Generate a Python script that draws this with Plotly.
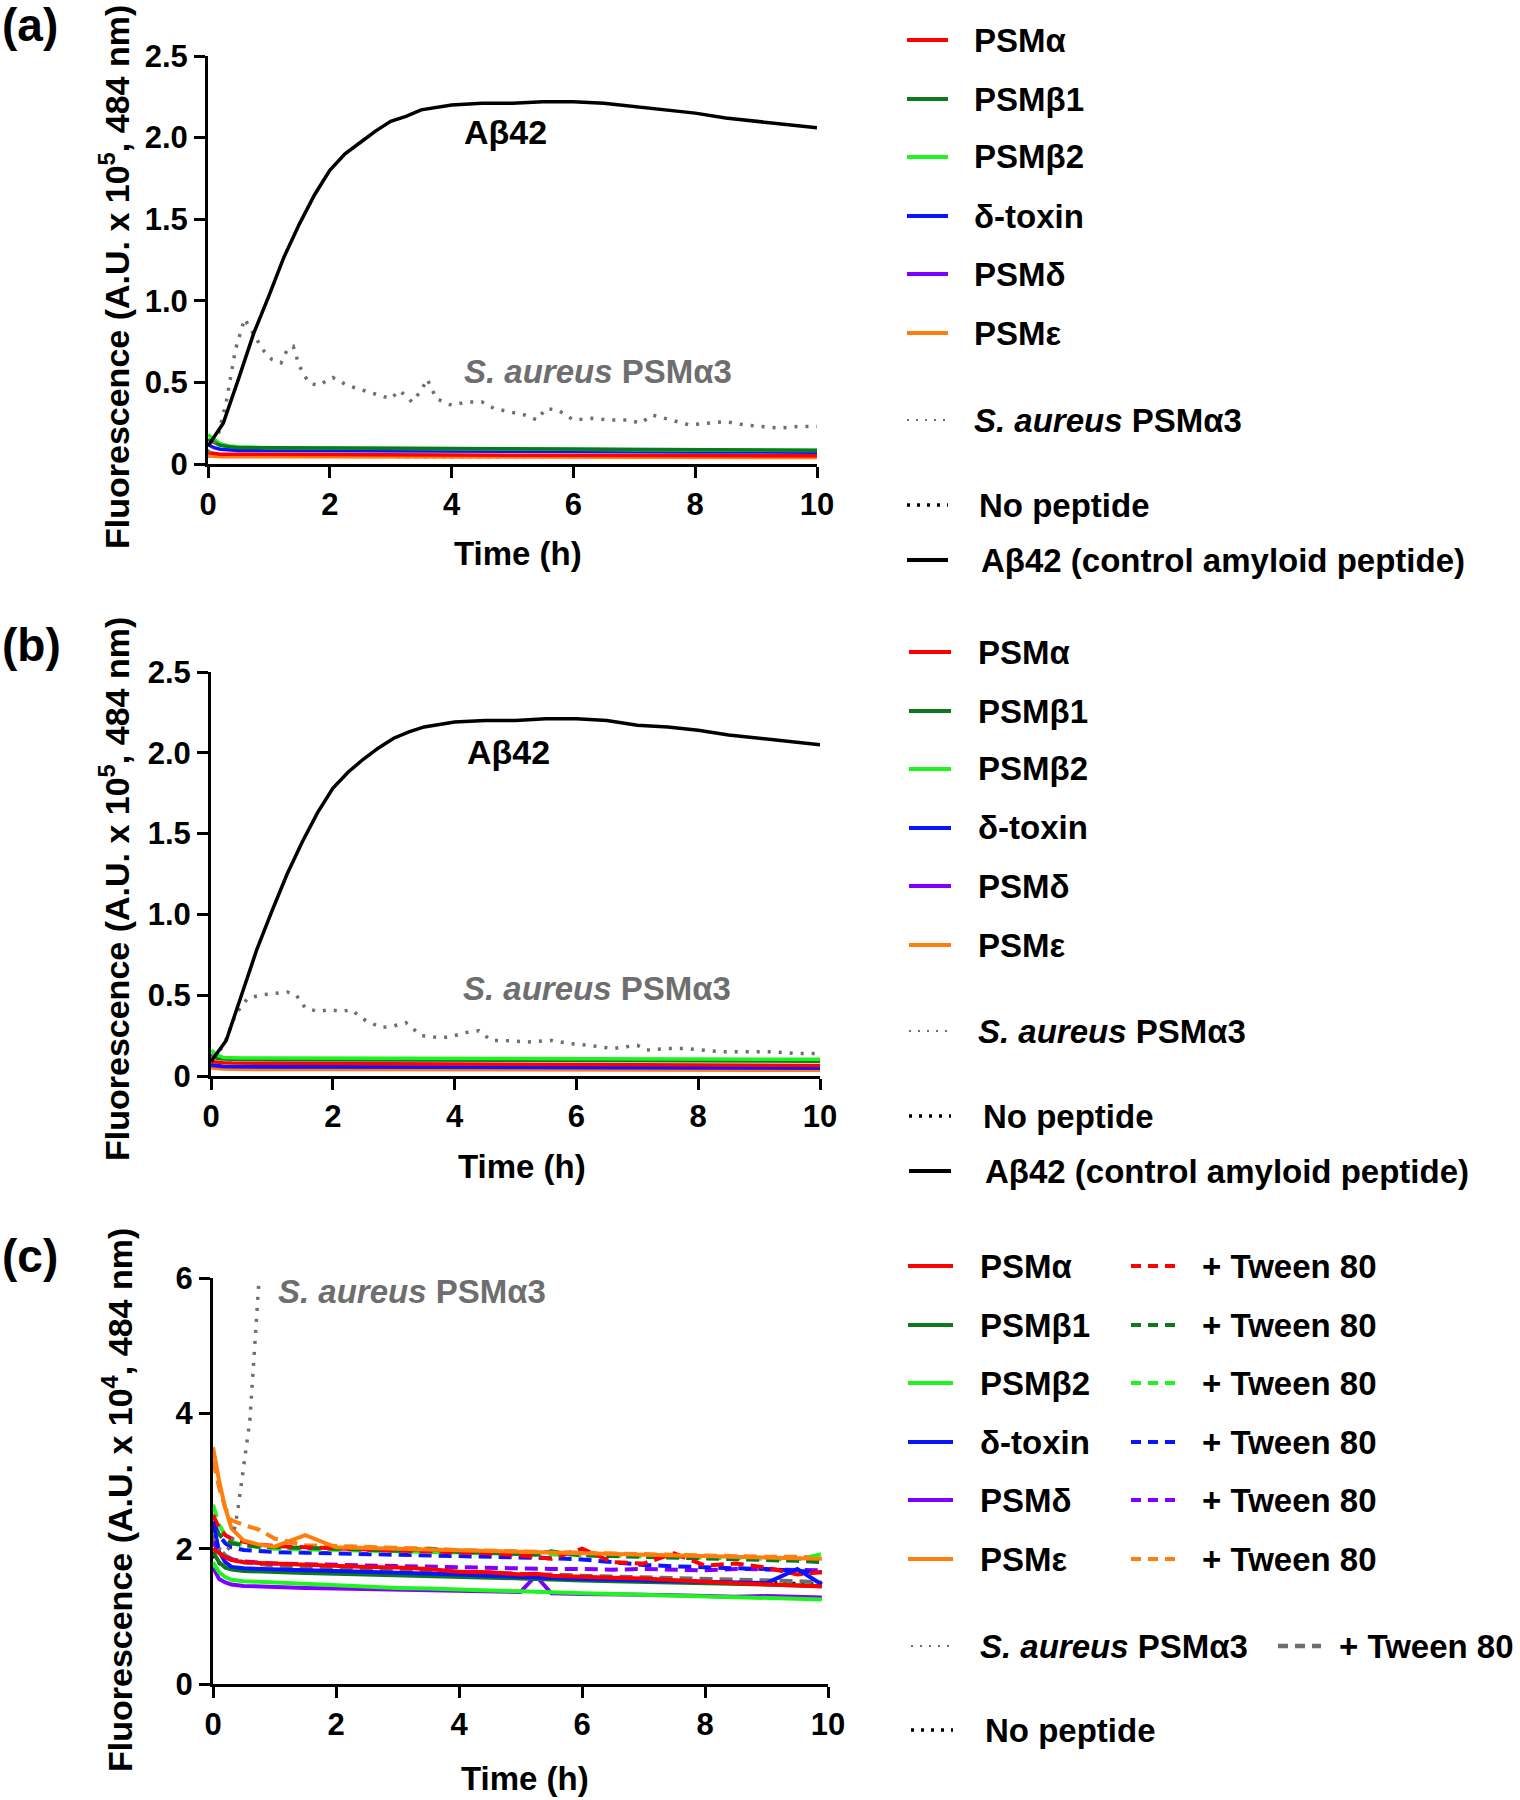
import plotly.graph_objects as go

W, H = 1520, 1800
FONT = "Liberation Sans, Arial, sans-serif"

# ---------------- data ----------------
# Panel (a)
t_ab42 = [0, 0.25, 0.5, 0.75, 1, 1.25, 1.5, 1.75, 2, 2.25, 2.5, 2.75, 3, 3.25, 3.5, 4,
          4.5, 5, 5.5, 6, 6.5, 7, 7.5, 8, 8.5, 9, 9.5, 10]
a_ab42 = [0.11, 0.25, 0.52, 0.8, 1.03, 1.27, 1.47, 1.65, 1.8, 1.9, 1.97, 2.04, 2.1, 2.13, 2.17,
          2.2, 2.21, 2.21, 2.22, 2.22, 2.21, 2.19, 2.17, 2.15, 2.12, 2.1, 2.08, 2.06]
b_ab42 = [0.09, 0.22, 0.5, 0.78, 1.02, 1.25, 1.45, 1.63, 1.78, 1.88, 1.96, 2.03, 2.09, 2.13, 2.16,
          2.19, 2.2, 2.2, 2.21, 2.21, 2.2, 2.17, 2.16, 2.14, 2.11, 2.09, 2.07, 2.05]

t_sa_a = [0, 0.15, 0.3, 0.45, 0.6, 0.75, 0.9, 1.05, 1.2, 1.3, 1.4, 1.5, 1.65, 1.8, 2.05, 2.3,
          2.55, 2.8, 3.0, 3.15, 3.35, 3.5, 3.6, 3.75, 4.0, 4.25, 4.5, 4.7, 4.95, 5.2, 5.4, 5.55,
          5.75, 6.0, 6.3, 6.6, 6.9, 7.1, 7.3, 7.6, 7.9, 8.2, 8.5, 8.8, 9.1, 9.4, 9.7, 10]
sa_a = [0.07, 0.15, 0.38, 0.7, 0.89, 0.8, 0.7, 0.64, 0.62, 0.7, 0.72, 0.6, 0.5, 0.48, 0.53, 0.48,
        0.45, 0.42, 0.4, 0.45, 0.38, 0.45, 0.52, 0.4, 0.36, 0.38, 0.38, 0.34, 0.32, 0.3, 0.27, 0.34,
        0.33, 0.27, 0.28, 0.27, 0.27, 0.25, 0.3, 0.27, 0.24, 0.25, 0.26, 0.24, 0.23, 0.22, 0.23, 0.23]

t_sa_b = [0, 0.2, 0.4, 0.6, 0.8, 1.0, 1.25, 1.4, 1.55, 1.75, 1.95, 2.15, 2.3, 2.55, 2.8, 3.0,
          3.2, 3.45, 3.7, 3.9, 4.2, 4.4, 4.6, 4.8, 5.2, 5.6, 5.9, 6.2, 6.6, 7.0, 7.15, 7.5, 7.8,
          8.1, 8.4, 8.8, 9.2, 9.6, 10]
sa_b = [0.12, 0.18, 0.38, 0.48, 0.5, 0.51, 0.52, 0.5, 0.42, 0.4, 0.41, 0.4, 0.41, 0.34, 0.3, 0.31,
        0.33, 0.25, 0.24, 0.24, 0.27, 0.28, 0.22, 0.22, 0.21, 0.22, 0.2, 0.19, 0.17, 0.19, 0.16, 0.17,
        0.17, 0.16, 0.15, 0.15, 0.15, 0.14, 0.14]

t_low = [0, 0.1, 0.2, 0.35, 0.5, 1, 2, 3, 4, 5, 6, 7, 8, 9, 10]
a_psma = [0.07, 0.065, 0.06, 0.06, 0.06, 0.058, 0.057, 0.056, 0.055, 0.054, 0.053, 0.052, 0.05, 0.05, 0.05]
a_psmb1 = [0.15, 0.13, 0.115, 0.105, 0.1, 0.1, 0.098, 0.097, 0.096, 0.094, 0.093, 0.09, 0.088, 0.087, 0.085]
a_psmb2 = [0.18, 0.15, 0.125, 0.11, 0.105, 0.1, 0.097, 0.095, 0.094, 0.092, 0.09, 0.088, 0.086, 0.085, 0.083]
a_delta = [0.12, 0.1, 0.09, 0.085, 0.083, 0.082, 0.08, 0.079, 0.078, 0.077, 0.076, 0.075, 0.074, 0.073, 0.072]
a_psmd = [0.06, 0.052, 0.05, 0.05, 0.05, 0.05, 0.05, 0.049, 0.049, 0.048, 0.048, 0.047, 0.047, 0.046, 0.046]
a_psme = [0.05, 0.046, 0.045, 0.045, 0.045, 0.044, 0.044, 0.043, 0.043, 0.042, 0.042, 0.041, 0.041, 0.04, 0.04]
a_nopep = [0.05, 0.048, 0.047, 0.047, 0.046, 0.046, 0.046, 0.045, 0.045, 0.045, 0.044, 0.044, 0.044, 0.043, 0.043]

b_psma = [0.09, 0.085, 0.082, 0.08, 0.08, 0.079, 0.078, 0.077, 0.075, 0.073, 0.072, 0.07, 0.068, 0.066, 0.065]
b_psmb1 = [0.13, 0.11, 0.105, 0.103, 0.102, 0.101, 0.1, 0.099, 0.098, 0.097, 0.096, 0.095, 0.094, 0.093, 0.092]
b_psmb2 = [0.16, 0.13, 0.115, 0.113, 0.112, 0.112, 0.111, 0.11, 0.109, 0.108, 0.107, 0.106, 0.105, 0.104, 0.103]
b_delta = [0.07, 0.063, 0.06, 0.059, 0.058, 0.058, 0.057, 0.056, 0.055, 0.054, 0.053, 0.052, 0.051, 0.05, 0.05]
b_psmd = [0.065, 0.06, 0.058, 0.057, 0.056, 0.056, 0.055, 0.054, 0.053, 0.052, 0.051, 0.05, 0.05, 0.049, 0.048]
b_psme = [0.05, 0.045, 0.043, 0.042, 0.041, 0.04, 0.04, 0.039, 0.038, 0.037, 0.037, 0.036, 0.036, 0.035, 0.035]
b_nopep = [0.06, 0.055, 0.053, 0.052, 0.052, 0.051, 0.051, 0.05, 0.05, 0.049, 0.049, 0.048, 0.048, 0.047, 0.047]

# Panel (c)
t_c = [0, 0.1, 0.2, 0.3, 0.5, 0.75, 1.0, 1.5, 2.0, 2.5, 3.0, 3.5, 4.0, 4.5, 5.0, 5.25, 5.5,
       6.0, 6.5, 7.0, 7.5, 8.0, 8.5, 9.0, 9.5, 9.9]
c_psma = [2.0, 1.93, 1.87, 1.83, 1.80, 1.79, 1.78, 1.76, 1.75, 1.73, 1.72, 1.70, 1.66, 1.65, 1.62,
          1.63, 1.60, 1.58, 1.57, 1.56, 1.53, 1.51, 1.49, 1.47, 1.46, 1.44]
c_psmb1 = [1.95, 1.80, 1.72, 1.69, 1.67, 1.66, 1.65, 1.64, 1.63, 1.62, 1.61, 1.60, 1.58, 1.57, 1.56,
           1.55, 1.54, 1.53, 1.52, 1.51, 1.50, 1.49, 1.48, 1.47, 1.46, 1.45]
c_psmb2 = [1.80, 1.65, 1.58, 1.54, 1.52, 1.51, 1.50, 1.47, 1.45, 1.43, 1.42, 1.41, 1.39, 1.38, 1.37,
           1.36, 1.36, 1.34, 1.33, 1.32, 1.31, 1.29, 1.28, 1.27, 1.26, 1.25]
c_delta = [2.40, 1.95, 1.80, 1.73, 1.71, 1.70, 1.69, 1.68, 1.67, 1.66, 1.64, 1.63, 1.62, 1.60, 1.58,
           1.57, 1.57, 1.55, 1.54, 1.53, 1.52, 1.51, 1.50, 1.49, 1.70, 1.47]
c_psmd = [1.72, 1.55, 1.50, 1.47, 1.45, 1.44, 1.43, 1.42, 1.41, 1.40, 1.40, 1.39, 1.38, 1.37, 1.36,
          1.60, 1.34, 1.33, 1.33, 1.32, 1.31, 1.30, 1.29, 1.30, 1.29, 1.28]
c_psme = [3.50, 3.00, 2.60, 2.30, 2.12, 2.06, 2.03, 2.20, 2.02, 2.01, 2.00, 1.98, 1.97, 1.96, 1.95,
          1.94, 1.94, 1.93, 1.92, 1.91, 1.90, 1.89, 1.88, 1.87, 1.86, 1.85]
c_psma_tw = [2.50, 2.30, 2.20, 2.15, 2.10, 2.06, 2.04, 2.02, 2.00, 1.99, 1.97, 1.96, 1.95, 1.93, 1.90,
             1.88, 1.85, 2.00, 1.80, 1.78, 1.93, 1.75, 1.78, 1.72, 1.62, 1.65]
c_psmb1_tw = [2.30, 2.20, 2.12, 2.08, 2.05, 2.03, 2.02, 2.01, 2.00, 1.98, 1.97, 2.00, 1.95, 1.94, 1.92,
              1.91, 1.96, 1.90, 1.89, 1.88, 1.87, 1.85, 1.84, 1.83, 1.82, 1.80]
c_psmb2_tw = [2.65, 2.35, 2.20, 2.10, 2.05, 2.02, 2.00, 1.99, 1.98, 1.97, 1.96, 1.96, 1.95, 1.94, 1.93,
              1.92, 1.92, 1.91, 1.90, 1.89, 1.88, 1.87, 1.86, 1.85, 1.84, 1.92]
c_delta_tw = [2.40, 2.20, 2.08, 2.02, 1.98, 1.96, 1.95, 1.94, 1.93, 1.92, 1.91, 1.91, 1.90, 1.89, 1.88,
              1.87, 1.86, 1.84, 1.80, 1.76, 1.74, 1.72, 1.71, 1.70, 1.68, 1.65]
c_psmd_tw = [2.10, 1.95, 1.88, 1.84, 1.81, 1.79, 1.78, 1.77, 1.76, 1.75, 1.74, 1.73, 1.72, 1.72, 1.71,
             1.70, 1.70, 1.70, 1.69, 1.70, 1.69, 1.68, 1.70, 1.69, 1.68, 1.68]
c_psme_tw = [3.30, 2.90, 2.60, 2.42, 2.35, 2.28, 2.15, 2.05, 2.04, 2.03, 2.01, 2.00, 1.98, 1.97, 1.96,
             1.95, 1.94, 1.93, 1.92, 1.91, 1.90, 1.90, 1.89, 1.88, 1.88, 1.87]
c_sa_tw = [2.20, 2.00, 1.90, 1.85, 1.80, 1.77, 1.75, 1.73, 1.72, 1.70, 1.69, 1.68, 1.66, 1.65, 1.63,
           1.62, 1.62, 1.60, 1.59, 1.58, 1.56, 1.55, 1.54, 1.53, 1.52, 1.50]
c_nopep = [1.90, 1.78, 1.72, 1.70, 1.68, 1.67, 1.66, 1.65, 1.64, 1.63, 1.62, 1.61, 1.60, 1.59, 1.58,
           1.57, 1.57, 1.56, 1.55, 1.54, 1.53, 1.52, 1.51, 1.50, 1.49, 1.48]
t_sa_c = [0, 0.1, 0.2, 0.3, 0.4, 0.5, 0.6, 0.65, 0.7, 0.75]
c_sa = [2.15, 2.0, 1.95, 2.05, 2.55, 3.2, 3.9, 4.6, 5.4, 6.0]

# tick labels
x_ticks = [0, 2, 4, 6, 8, 10]
x_ticktext = ["0", "2", "4", "6", "8", "10"]
y_ticks_ab = [0, 0.5, 1.0, 1.5, 2.0, 2.5]
y_ticktext_ab = ["0", "0.5", "1.0", "1.5", "2.0", "2.5"]
y_ticks_c = [0, 2, 4, 6]
y_ticktext_c = ["0", "2", "4", "6"]

# legend labels
peptides = ["PSMα", "PSMβ1", "PSMβ2", "δ-toxin", "PSMδ", "PSMε"]
colors = ["#ff0000", "#0b7a1c", "#1ef51e", "#0a14ff", "#8000ff", "#ff7f0e"]
sa_label = "<i>S. aureus</i> PSMα3"
nopep_label = "No peptide"
ab42_label = "Aβ42 (control amyloid peptide)"
tween_label = "+ Tween 80"

GRAY = "#6e6e6e"

# ---------------- figure ----------------
fig = go.Figure()

def px_x(p):
    return p / W

def px_y(p):
    return 1 - p / H

dom = {
    "a": ([208, 817], [56, 464]),
    "b": ([211, 820], [672, 1076]),
    "c": ([213, 828], [1278, 1684]),
}
axes = {"a": ("x", "y"), "b": ("x2", "y2"), "c": ("x3", "y3")}

LW = 3.5

def add(panel, t, y, color, dash="solid", width=LW):
    xa, ya = axes[panel]
    fig.add_trace(go.Scatter(x=t, y=y, mode="lines", xaxis=xa, yaxis=ya,
                             line=dict(color=color, width=width, dash=dash),
                             showlegend=False, hoverinfo="skip", cliponaxis=True))

DOT_SA = "3px,8px"
DOT_NP = "3px,6px"

# (a)
add("a", t_low, a_nopep, "#000000", DOT_NP, 3)
add("a", t_low, a_psmd, colors[4])
add("a", t_low, a_psme, colors[5])
add("a", t_low, a_delta, colors[3])
add("a", t_low, a_psma, colors[0])
add("a", t_low, a_psmb2, colors[2])
add("a", t_low, a_psmb1, colors[1])
add("a", t_sa_a, sa_a, GRAY, DOT_SA, 3.5)
add("a", t_ab42, a_ab42, "#000000", "solid", 3.5)

# (b)
add("b", t_low, b_nopep, "#000000", DOT_NP, 3)
add("b", t_low, b_psme, colors[5])
add("b", t_low, b_psmd, colors[4])
add("b", t_low, b_delta, colors[3])
add("b", t_low, b_psmb1, colors[1])
add("b", t_low, b_psmb2, colors[2])
add("b", t_low, b_psma, colors[0])
add("b", t_sa_b, sa_b, GRAY, DOT_SA, 3.5)
add("b", t_ab42, b_ab42, "#000000", "solid", 3.5)

# (c)
DASH_C = "13px,7px"
add("c", t_c, c_nopep, "#000000", DOT_NP, 3)
add("c", t_c, c_sa_tw, GRAY, DASH_C, 4)
add("c", t_c, c_psmd_tw, colors[4], DASH_C, 4)
add("c", t_c, c_delta_tw, colors[3], DASH_C, 4)
add("c", t_c, c_psme_tw, colors[5], DASH_C, 4)
add("c", t_c, c_psmb2_tw, colors[2], DASH_C, 4)
add("c", t_c, c_psmb1_tw, colors[1], DASH_C, 4)
add("c", t_c, c_psma_tw, colors[0], DASH_C, 4)
add("c", t_c, c_psme, colors[5], "solid", 4)
add("c", t_c, c_psmd, colors[4], "solid", 4)
add("c", t_c, c_psmb2, colors[2], "solid", 4)
add("c", t_c, c_psmb1, colors[1], "solid", 4)
add("c", t_c, c_delta, colors[3], "solid", 4)
add("c", t_c, c_psma, colors[0], "solid", 4)
add("c", t_sa_c, c_sa, GRAY, DOT_SA, 3.5)

tickfont = dict(family=FONT, size=31, color="#000000", weight="bold")

def axis_common():
    return dict(showline=True, linecolor="#000000", linewidth=3, ticks="outside",
                ticklen=11, tickwidth=3, tickcolor="#000000", showgrid=False,
                zeroline=False, tickfont=tickfont, mirror=False, fixedrange=True,
                automargin=False)

layout_axes = {}
for i, p in enumerate(["a", "b", "c"]):
    (x0, x1), (y0, y1) = dom[p]
    sx = "" if i == 0 else str(i + 1)
    xa = axis_common()
    xa.update(domain=[px_x(x0), px_x(x1)], range=[0, 10], tickvals=x_ticks,
              ticktext=x_ticktext, anchor="y" + sx)
    ya = axis_common()
    if p == "c":
        ya.update(range=[0, 6], tickvals=y_ticks_c, ticktext=y_ticktext_c)
    else:
        ya.update(range=[0, 2.5], tickvals=y_ticks_ab, ticktext=y_ticktext_ab)
    ya.update(domain=[px_y(y1), px_y(y0)], anchor="x" + sx)
    layout_axes["xaxis" + sx] = xa
    layout_axes["yaxis" + sx] = ya

fig.update_layout(width=W, height=H, margin=dict(l=0, r=0, t=0, b=0, autoexpand=False),
                  paper_bgcolor="white", plot_bgcolor="white", showlegend=False,
                  font=dict(family=FONT, color="#000000"), **layout_axes)

ann = []
shapes = []

def text(x, y, s, size=33, color="#000000", xanchor="left", angle=0):
    ann.append(dict(x=px_x(x), y=px_y(y), xref="paper", yref="paper", text=s,
                    showarrow=False, xanchor=xanchor, yanchor="middle", textangle=angle,
                    font=dict(family=FONT, size=size, color=color, weight="bold")))

def sample(x0, x1, y, color, dash="solid", width=4):
    shapes.append(dict(type="line", xref="paper", yref="paper", x0=px_x(x0), x1=px_x(x1),
                       y0=px_y(y), y1=px_y(y), line=dict(color=color, width=width, dash=dash)))

# panel labels
text(0, 25, "(a)", size=46)
text(0, 645, "(b)", size=46)
text(0, 1256, "(c)", size=46)

# axis titles
ytitle = "Fluorescence (A.U. x 10<sup>5</sup>, 484 nm)"
ytitle_c = "Fluorescence (A.U. x 10<sup>4</sup>, 484 nm)"
text(115, 277, ytitle, size=34, xanchor="center", angle=-90)
text(115, 889, ytitle, size=34, xanchor="center", angle=-90)
text(117, 1500, ytitle_c, size=34, xanchor="center", angle=-90)
text(518, 554, "Time (h)", size=33, xanchor="center")
text(522, 1166, "Time (h)", size=33, xanchor="center")
text(525, 1778, "Time (h)", size=33, xanchor="center")

# in-plot labels
text(506, 132, "Aβ42", size=34, xanchor="center")
text(598, 371, sa_label, size=33, color=GRAY, xanchor="center")
text(508, 752, "Aβ42", size=34, xanchor="center")
text(597, 988, sa_label, size=33, color=GRAY, xanchor="center")
text(412, 1291, sa_label, size=33, color=GRAY, xanchor="center")

# legends (a) and (b)
for rows, lx0, lx1, tx in [
    ([40, 99, 157, 216, 274, 333, 420, 505, 560], 907, 948, 972),
    ([652, 711, 769, 828, 886, 945, 1031, 1116, 1171], 909, 951, 976),
]:
    for k in range(6):
        sample(lx0, lx1, rows[k], colors[k])
        text(tx, rows[k], peptides[k])
    sample(lx0, lx1, rows[6], GRAY, "2px,7px", 2)
    text(tx, rows[6], sa_label)
    sample(lx0, lx1, rows[7], "#000000", "3px,7px", 3.5)
    text(tx + 5, rows[7], nopep_label)
    sample(lx0, lx1, rows[8], "#000000", "solid", 4)
    text(tx + 7, rows[8], ab42_label)

# legend (c)
rows_c = [1266, 1325, 1383, 1442, 1500, 1559, 1646, 1730]
for k in range(6):
    sample(908, 953, rows_c[k], colors[k])
    text(978, rows_c[k], peptides[k])
    sample(1131, 1178, rows_c[k], colors[k], "10px,7px", 4)
    text(1200, rows_c[k], tween_label)
sample(911, 953, rows_c[6], GRAY, "2px,7px", 2)
text(978, rows_c[6], sa_label)
sample(1278, 1321, rows_c[6], GRAY, "10px,7px", 4.5)
text(1337, rows_c[6], tween_label)
sample(911, 953, rows_c[7], "#000000", "3px,7px", 3.5)
text(983, rows_c[7], nopep_label)

fig.update_layout(annotations=ann, shapes=shapes)
fig.write_html("out.html", config={"displayModeBar": False},
               post_script="document.body.style.margin='0';document.body.style.overflow='hidden';")
